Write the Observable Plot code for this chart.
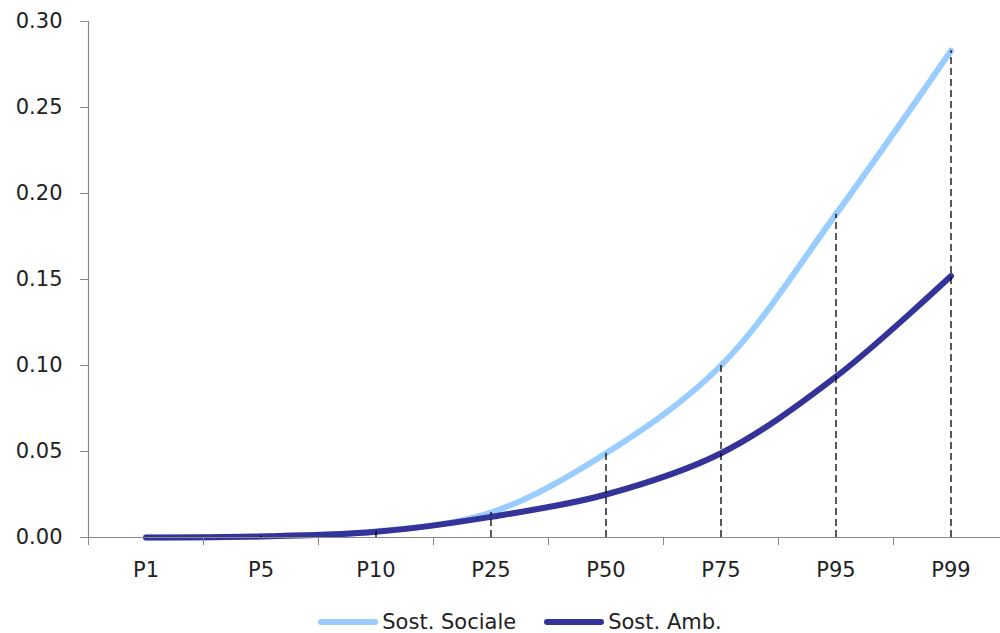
<!DOCTYPE html>
<html>
<head>
<meta charset="utf-8">
<script src="https://cdn.jsdelivr.net/npm/d3@7"></script>
<script src="https://cdn.jsdelivr.net/npm/@observablehq/plot@0.6"></script>
<style>
  html, body { margin: 0; padding: 0; background: #fff; overflow: hidden; width: 1000px; height: 633px; }
  #chart svg { overflow: hidden; display: block; }
  #legend { display: flex; justify-content: center; align-items: center; padding-left: 40px; padding-top: 15px; height: 24px;
            font-family: "DejaVu Sans", sans-serif; font-size: 21px; color: #222; }
  .item { display: flex; align-items: center; margin: 0 14px; }
  .item svg { margin-right: 4px; }
</style>
</head>
<body>
<div id="chart"></div>
<div id="legend"></div>
<script>
const categories = ["P1", "P5", "P10", "P25", "P50", "P75", "P95", "P99"];
const sociale    = [0, 0.0007, 0.0035, 0.0145, 0.049, 0.100, 0.188, 0.283];
const ambientale = [0, 0.0006, 0.0033, 0.012, 0.025, 0.049, 0.0935, 0.152];
const yTicks = [0, 0.05, 0.10, 0.15, 0.20, 0.25, 0.30];
const seriesNames = ["Sost. Sociale", "Sost. Amb."];
const seriesColors = ["#99CCFF", "#333399"];

const data = categories.map((c, i) => ({cat: c, pos: i + 0.5, sociale: sociale[i], ambientale: ambientale[i]}));
const bounds = d3.range(0, categories.length + 1);
const font = "'DejaVu Sans', sans-serif";

const chart = Plot.plot({
  width: 1000,
  height: 595,
  marginLeft: 88,
  marginRight: 0,
  marginTop: 21,
  marginBottom: 58,
  style: {fontFamily: font, fontSize: "21px", background: "#fff", color: "#222"},
  x: {type: "linear", domain: [0, categories.length], range: [88, 1008]},
  y: {domain: [0, 0.3]},
  marks: [
    Plot.line(data, {x: "pos", y: "sociale", stroke: seriesColors[0], strokeWidth: 6, curve: "catmull-rom", strokeLinecap: "round"}),
    Plot.line(data, {x: "pos", y: "ambientale", stroke: seriesColors[1], strokeWidth: 6, curve: "catmull-rom", strokeLinecap: "round"}),
    Plot.ruleX(data, {x: "pos", y1: 0, y2: "sociale", stroke: "#000", strokeWidth: 1.3, strokeDasharray: "7,4"}),
    Plot.ruleX([0], {y1: 0, y2: 0.3, stroke: "#888", strokeWidth: 1.2}),
    Plot.ruleY([0], {stroke: "#888", strokeWidth: 1.2}),
    Plot.axisY({ticks: yTicks, tickFormat: d => d.toFixed(2), tickSize: 8, tickPadding: 18, stroke: "#888", fill: "#222", label: null}),
    Plot.axisX({ticks: bounds, tickFormat: () => "", tickSize: 8, stroke: "#888", label: null}),
    Plot.axisX({ticks: data.map(d => d.pos), tickFormat: d => categories[Math.floor(d)], tickSize: 0, tickPadding: 25, fill: "#222", label: null})
  ]
});
document.getElementById("chart").appendChild(chart);

const legend = document.getElementById("legend");
seriesNames.forEach((name, i) => {
  const item = document.createElement("div");
  item.className = "item";
  item.innerHTML = `<svg width="60" height="12"><line x1="3" y1="6" x2="57" y2="6" stroke="${seriesColors[i]}" stroke-width="6" stroke-linecap="round"/></svg><span>${name}</span>`;
  legend.appendChild(item);
});
</script>
</body>
</html>
